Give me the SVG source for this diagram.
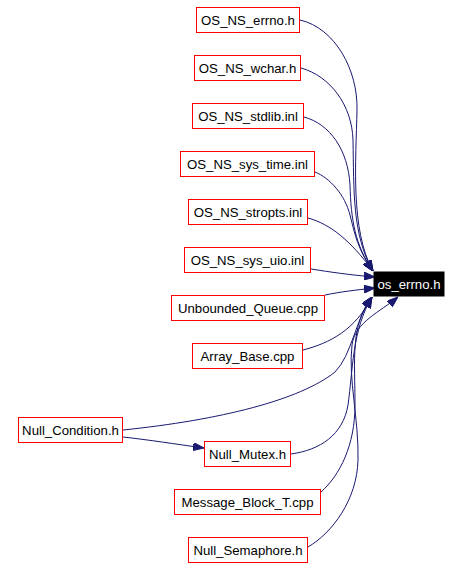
<svg xmlns="http://www.w3.org/2000/svg" width="462" height="568" viewBox="0 0 462 568">
<style>
.n rect{fill:#ffffff;stroke:#ff0000;stroke-width:1}
.n text{font-family:"Liberation Sans",Arial,sans-serif;font-size:13.2px;fill:#000000;text-anchor:middle}
.root rect{fill:#000000;stroke:#000000}
.root text{fill:#ffffff}
.e path{fill:none;stroke:#191970;stroke-width:1;marker-end:url(#arr)}
</style>
<defs>
<marker id="arr" markerWidth="11" markerHeight="8" refX="11" refY="4" orient="auto" markerUnits="userSpaceOnUse">
<path d="M0,0 L11,4 L0,8 z" fill="#191970" stroke="#191970" stroke-width="1"/>
</marker>
</defs>
<rect width="462" height="568" fill="#ffffff"/>
<g id="edges" class="e">
<path d="M300,20 C335,28 358,70 357,110 C356,160 350,230 373,271"/>
<path d="M301,68 C330,76 352,105 353,140 C354,190 352,235 373,271"/>
<path d="M304,117 C330,124 348,150 350,185 C351,220 355,245 373,271"/>
<path d="M315,172 C330,178 345,195 350,215 C355,235 358,250 373,271"/>
<path d="M308,218 C330,224 350,240 373,271"/>
<path d="M311,269 C330,272 350,275 375,277"/>
<path d="M325,295 C340,292 355,290 375,288"/>
<path d="M303,350 C330,343 355,330 372,297"/>
<path d="M123,430 C220,420 300,400 335,372 C352,355 355,320 372,297"/>
<path d="M123,437 C150,440 175,444 204,448"/>
<path d="M291,454 C320,450 343,435 348,405 C353,370 352,330 372,297"/>
<path d="M321,492 C340,475 355,445 355,405 C355,360 350,325 372,297"/>
<path d="M308,547 C332,533 357,500 358,460 C359,420 348,378 352,345 C355,322 380,312 398,297"/>
</g>
<g id="os_errno_h" class="n root"><rect x="374" y="272" width="70" height="24"/><text x="409" y="289">os_errno.h</text></g>
<g id="OS_NS_errno_h" class="n"><rect x="196.5" y="7.5" width="103" height="25"/><text x="248" y="24.5">OS_NS_errno.h</text></g>
<g id="OS_NS_wchar_h" class="n"><rect x="194.5" y="55.5" width="106" height="25"/><text x="247.5" y="72.5">OS_NS_wchar.h</text></g>
<g id="OS_NS_stdlib_inl" class="n"><rect x="192.5" y="103.5" width="111" height="25"/><text x="248" y="120.5">OS_NS_stdlib.inl</text></g>
<g id="OS_NS_sys_time_inl" class="n"><rect x="180.5" y="151.5" width="134" height="25"/><text x="247.5" y="168.5">OS_NS_sys_time.inl</text></g>
<g id="OS_NS_stropts_inl" class="n"><rect x="188.5" y="199.5" width="119" height="25"/><text x="248" y="216.5">OS_NS_stropts.inl</text></g>
<g id="OS_NS_sys_uio_inl" class="n"><rect x="184.5" y="247.5" width="126" height="25"/><text x="247.5" y="264.5">OS_NS_sys_uio.inl</text></g>
<g id="Unbounded_Queue_cpp" class="n"><rect x="171.5" y="295.5" width="153" height="25"/><text x="248" y="312.5">Unbounded_Queue.cpp</text></g>
<g id="Array_Base_cpp" class="n"><rect x="192.5" y="343.5" width="110" height="25"/><text x="247.5" y="360.5">Array_Base.cpp</text></g>
<g id="Null_Condition_h" class="n"><rect x="18.5" y="417.5" width="104" height="25"/><text x="70.5" y="434.5">Null_Condition.h</text></g>
<g id="Null_Mutex_h" class="n"><rect x="204.5" y="441.5" width="86" height="25"/><text x="247.5" y="458.5">Null_Mutex.h</text></g>
<g id="Message_Block_T_cpp" class="n"><rect x="174.5" y="489.5" width="146" height="25"/><text x="247.5" y="506.5">Message_Block_T.cpp</text></g>
<g id="Null_Semaphore_h" class="n"><rect x="188.5" y="537.5" width="119" height="25"/><text x="248" y="554.5">Null_Semaphore.h</text></g>
</svg>
